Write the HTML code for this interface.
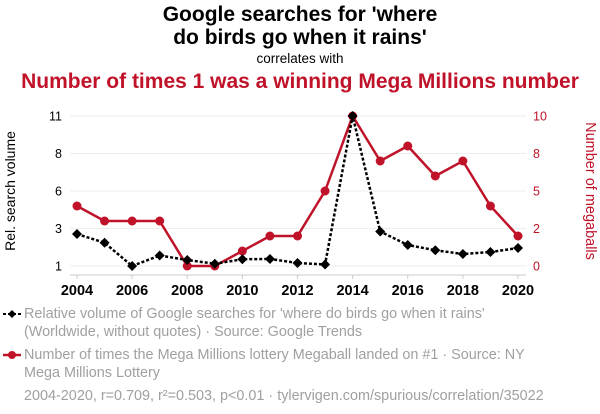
<!DOCTYPE html>
<html><head><meta charset="utf-8"><style>
body{margin:0;width:600px;height:414px;background:#fff;font-family:"Liberation Sans",sans-serif;overflow:hidden;position:relative}
.t{position:absolute;left:0;width:600px;text-align:center}
.leg{position:absolute;left:24px;font-size:14.4px;color:#a0a0a0;line-height:18px;width:540px}
</style></head><body>
<div class="t" style="top:3px;font-size:21px;font-weight:bold;line-height:23px;color:#000">Google searches for 'where<br>do birds go when it rains'</div>
<div class="t" style="top:51px;font-size:13.5px;color:#000">correlates with</div>
<div class="t" style="top:70px;font-size:21px;font-weight:bold;color:#c0132a">Number of times 1 was a winning Mega Millions number</div>
<svg id="c" width="600" height="414" style="position:absolute;left:0;top:0"></svg>
<div class="leg" style="top:305px">Relative volume of Google searches for 'where do birds go when it rains' (Worldwide, without quotes) · Source: Google Trends</div>
<div class="leg" style="top:346px">Number of times the Mega Millions lottery Megaball landed on #1 · Source: NY Mega Millions Lottery</div>
<div class="leg" style="left:24px;top:387px;width:580px">2004-2020, r=0.709, r²=0.503, p&lt;0.01 · tylervigen.com/spurious/correlation/35022</div>
<script>
const years=[2004,2005,2006,2007,2008,2009,2010,2011,2012,2013,2014,2015,2016,2017,2018,2019,2020];
const searches=[3.13,2.55,1.0,1.7,1.4,1.15,1.45,1.47,1.2,1.1,11,3.3,2.4,2.05,1.8,1.93,2.2];
const megaballs=[4,3,3,3,0,0,1,2,2,5,10,7,8,6,7,4,2];
const leftTicks=[1,3.5,6,8.5,11];
const leftLabels=["1","3","6","8","11"];
const rightTicks=[0,2.5,5,7.5,10];
const rightLabels=["0","2","5","8","10"];
const xTicks=[2004,2006,2008,2010,2012,2014,2016,2018,2020];
const svg=document.getElementById('c');const NS='http://www.w3.org/2000/svg';
const x=v=>77+(v-2004)*(518-77)/16;
const yl=v=>266-(v-1)*15;
const yr=v=>266-v*15;
function mk(t,a,p){const e=document.createElementNS(NS,t);for(const k in a)e.setAttribute(k,a[k]);(p||svg).appendChild(e);return e;}
leftTicks.forEach((t,i)=>{
 const g=mk('line',{x1:70,x2:526,y1:yl(t),y2:yl(t),stroke:'#eee','stroke-width':1});
 
 
 const l=mk('text',{x:62,y:yl(t)+4.5,'text-anchor':'end','font-size':12.5,fill:'#000'});l.textContent=leftLabels[i];
 
 
});
rightTicks.forEach((t,i)=>{
 const l=mk('text',{x:533,y:yr(t)+4.5,'font-size':12.5,fill:'#c0132a'});l.textContent=rightLabels[i];
 
 
});
mk('line',{x1:70,x2:526,y1:275,y2:275,stroke:'#ccc'});
xTicks.forEach(t=>{
 mk('line',{x1:x(t),x2:x(t),y1:275,y2:279,stroke:'#ccc'});
 const l=mk('text',{x:x(t),y:295,'text-anchor':'middle','font-size':14.5,'font-weight':'bold',fill:'#000'});l.textContent=t;
 
 
});
const yt=mk('text',{transform:'translate(15,191) rotate(-90)','text-anchor':'middle','font-size':14,fill:'#000'});yt.textContent='Rel. search volume';


const yt2=mk('text',{transform:'translate(586,191) rotate(90)','text-anchor':'middle','font-size':14.5,fill:'#c0132a'});yt2.textContent='Number of megaballs';


const rl=mk('polyline',{points:years.map((y,i)=>x(y)+','+yr(megaballs[i])).join(' '),fill:'none',stroke:'#c0132a','stroke-width':2.5});


const bl=mk('polyline',{points:years.map((y,i)=>x(y)+','+yl(searches[i])).join(' '),fill:'none',stroke:'#000','stroke-width':2.5,'stroke-dasharray':'3,2'});


years.forEach((y,i)=>{
 const c=mk('circle',{cx:x(y),cy:yr(megaballs[i]),r:4.5,fill:'#c0132a'});
 
 
 const px=x(y),py=yl(searches[i]);
 const d=mk('polygon',{points:`${px},${py-5} ${px+5},${py} ${px},${py+5} ${px-5},${py}`,fill:'#000'});
 
 
});
mk('line',{x1:3,x2:21,y1:314,y2:314,stroke:'#000','stroke-width':2,'stroke-dasharray':'3,2'});
mk('polygon',{points:'12,310 16,314 12,318 8,314',fill:'#000'});
mk('line',{x1:3,x2:21,y1:355,y2:355,stroke:'#c0132a','stroke-width':2.5});
mk('circle',{cx:12,cy:355,r:4,fill:'#c0132a'});
</script>
</body></html>
